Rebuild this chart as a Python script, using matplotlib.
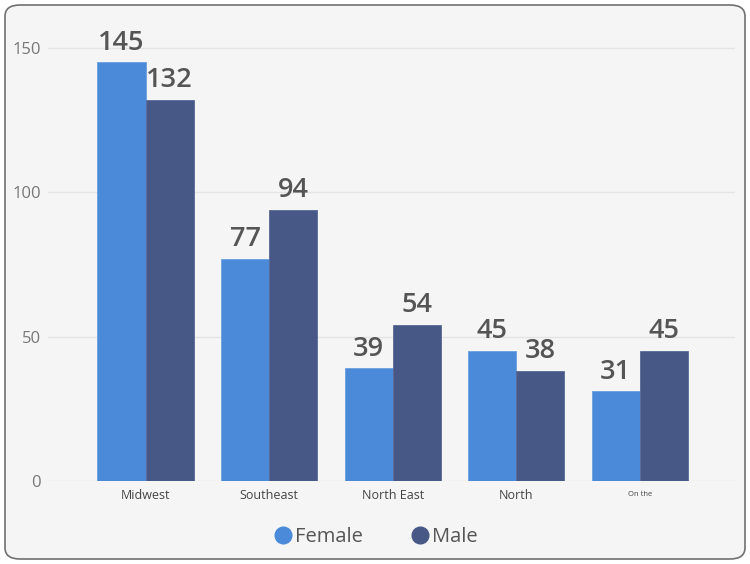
import numpy as np
import matplotlib.pyplot as plt
from matplotlib.patches import FancyBboxPatch
from matplotlib.lines import Line2D

plt.rcParams['font.family'] = ['Open Sans', 'DejaVu Sans']

regions = ["Midwest", "Southeast", "North East", "North", "On the"]
female = [145, 77, 39, 45, 31]
male = [132, 94, 54, 38, 45]

col_female = "#4a8ad9"
col_male = "#475886"

fig = plt.figure(figsize=(7.5, 5.64), dpi=100)
fig.patch.set_facecolor("white")
# rounded card background
card = FancyBboxPatch((5 / 750, 5 / 564), 740 / 750, 554 / 564,
                      boxstyle="round,pad=0,rounding_size=0.02",
                      transform=fig.transFigure, facecolor="#f5f5f5",
                      edgecolor="#707070", linewidth=1.2, zorder=-5)
fig.patches.append(card)

ax = fig.add_axes([48 / 750, 1 - 481 / 564, 687 / 750, 462 / 564])
ax.set_zorder(3)
ax.set_facecolor("none")

x = np.arange(len(regions))
w = 0.39
b1 = ax.bar(x - w / 2, female, w, color=col_female, edgecolor="#6a9fe0", linewidth=0.6, zorder=3)
b2 = ax.bar(x + w / 2, male, w, color=col_male, edgecolor="#5a6a96", linewidth=0.6, zorder=3)

for bars, vals in ((b1, female), (b2, male)):
    for rect, v in zip(bars, vals):
        ax.text(rect.get_x() + rect.get_width() / 2, v + 2, str(v),
                ha="center", va="bottom", fontsize=19.5, fontweight="semibold",
                color="#555555", zorder=4)

ax.set_xlim(-0.79, 4.77)
ax.set_ylim(0, 160)
ax.set_yticks([0, 50, 100, 150])
ax.grid(axis="y", color="#e4e4e4", linewidth=1, zorder=0)
ax.set_axisbelow(True)
for s in ax.spines.values():
    s.set_visible(False)
ax.tick_params(axis="y", length=0, pad=5, labelsize=12, labelcolor="#777777")
ax.tick_params(axis="x", length=0, pad=6)
ax.set_xticks(x)
ax.set_xticklabels(regions, fontsize=9, color="#444444")
ax.get_xticklabels()[-1].set_fontsize(5.5)
ax.get_xticklabels()[-1].set_y(-0.004)

handles = [Line2D([], [], marker="o", linestyle="none", markersize=12,
                  markerfacecolor=col_female, markeredgecolor=col_female, label="Female"),
           Line2D([], [], marker="o", linestyle="none", markersize=12,
                  markerfacecolor=col_male, markeredgecolor=col_male, label="Male")]
leg = fig.legend(handles=handles, loc="center", bbox_to_anchor=(0.5, 1 - 537 / 564), ncol=2,
                 frameon=False, fontsize=14.5, labelcolor="#555555", handletextpad=0.1,
                 columnspacing=2.35, handlelength=1.0)
leg.set_zorder(4)

fig.savefig("out.png", dpi=100, facecolor="white")
